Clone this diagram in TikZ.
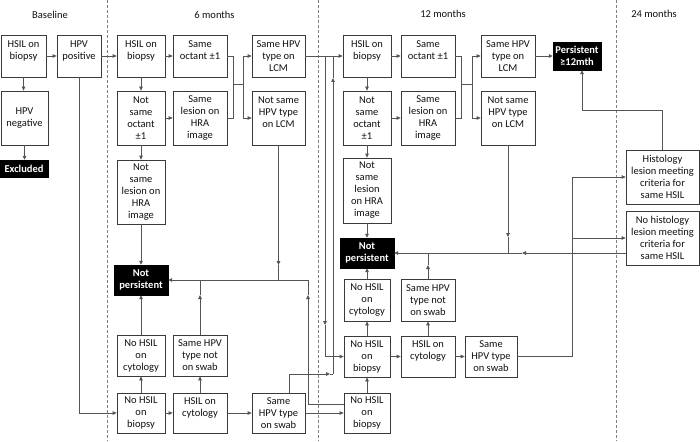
\documentclass[tikz,border=0pt]{standalone}
\usepackage{fontspec}
\setmainfont{Carlito}
\usetikzlibrary{arrows.meta,calc}
\definecolor{boxc}{HTML}{3A3A3A}
\definecolor{linec}{HTML}{555555}
\definecolor{txt}{HTML}{111111}
\newcommand{\mkbox}[7][box]{%
  \pgfmathsetmacro\cx{(#3+#5)/2}\pgfmathsetmacro\cy{(#4+#6)/2}%
  \pgfmathsetmacro\ww{#5-#3}\pgfmathsetmacro\hh{#6-#4}%
  \node[#1, minimum width=\ww pt, minimum height=\hh pt] (#2) at (\cx,\cy) {#7};}
\begin{document}
\begin{tikzpicture}[x=1pt,y=-1pt,
  box/.style={draw=boxc, line width=0.8pt, fill=white, align=center, inner sep=0pt,
    font=\fontsize{10.5}{12}\selectfont, text=txt},
  blk/.style={draw=black, fill=black, align=center, inner sep=0pt,
    font=\bfseries\fontsize{10.5}{12}\selectfont, text=white},
  conn/.style={draw=linec, line width=0.8pt},
  arr/.style={conn, -{Triangle[length=4pt,width=3.6pt]}},
  divider/.style={draw=gray, line width=0.6pt, dash pattern=on 3pt off 2pt},
  hdr/.style={font=\fontsize{10.5}{12}\selectfont, text=txt}]
\useasboundingbox (0,0) rectangle (700,441);
\fill[white] (0,0) rectangle (700,441);
% dividers
\draw[divider] (107,0) -- (107,441);
\draw[divider] (318,0) -- (318,441);
\draw[divider] (616,0) -- (616,441);
% headers
\node[hdr] (hB) at (50,15) {Baseline};
\node[hdr] (h6) at (214.5,15) {6 months};
\node[hdr] (h12) at (443,14) {12 months};
\node[hdr] (h24) at (654,14) {24 months};
% baseline
\mkbox{bHSIL}{1}{35}{46}{77}{HSIL on\\biopsy\\~}
\mkbox{bPos}{57}{35}{101}{77}{HPV\\positive\\~}
\mkbox{bNeg}{1}{91}{48}{145}{HPV\\negative}
\mkbox[blk]{bExcl}{0}{160}{48}{177}{Excluded}
% 6 months
\mkbox{sHSIL}{117}{35}{165}{77}{HSIL on\\biopsy\\~}
\mkbox{sOct}{173}{35}{227}{77}{Same\\octant ±1\\~}
\mkbox{sLCM}{252}{35}{305}{77}{Same HPV\\type on\\LCM}
\mkbox{sNotOct}{117}{91}{165}{145}{Not\\same\\octant\\±1}
\mkbox{sLes}{173}{91}{227}{145}{Same\\lesion on\\HRA\\image}
\mkbox{sNotLCM}{252}{91}{305}{145}{Not same\\HPV type\\on LCM\\~}
\mkbox{sNotLes}{117}{160}{165}{224}{Not\\same\\lesion on\\HRA\\image}
\mkbox[blk]{sNP}{114}{265}{168}{295}{Not\\persistent}
\mkbox{sNoCy}{117}{335}{165}{376}{No HSIL\\on\\cytology}
\mkbox{sNotSwab}{173}{335}{227}{376}{Same HPV\\type not\\on swab}
\mkbox{sNoBx}{117}{393}{165}{433}{No HSIL\\on\\biopsy}
\mkbox{sHCy}{173}{393}{227}{433}{HSIL on\\cytology\\~}
\mkbox{sSwab}{252}{393}{305}{433}{Same\\HPV type\\on swab}
% 12 months
\mkbox{tHSIL}{343}{35}{391}{77}{HSIL on\\biopsy\\~}
\mkbox{tOct}{401}{35}{455}{77}{Same\\octant ±1\\~}
\mkbox{tLCM}{481}{35}{535}{77}{Same HPV\\type on\\LCM}
\mkbox{tNotOct}{343}{91}{391}{145}{Not\\same\\octant\\±1}
\mkbox{tLes}{401}{91}{455}{145}{Same\\lesion on\\HRA\\image}
\mkbox{tNotLCM}{481}{91}{535}{145}{Not same\\HPV type\\on LCM\\~}
\mkbox{tNotLes}{343}{158}{391}{223}{Not\\same\\lesion\\on HRA\\image}
\mkbox[blk]{tNP}{340}{238}{394}{268}{Not\\persistent}
\mkbox{tNoCy}{344}{279}{390}{321}{No HSIL\\on\\cytology}
\mkbox{tNotSwab}{401}{279}{455}{321}{Same HPV\\type not\\on swab}
\mkbox{tNoBxA}{344}{336}{390}{377}{No HSIL\\on\\biopsy}
\mkbox{tHCy}{401}{336}{455}{377}{HSIL on\\cytology\\~}
\mkbox{tSwab}{465}{336}{517}{377}{Same\\HPV type\\on swab}
\mkbox{tNoBxB}{344}{393}{390}{433}{No HSIL\\on\\biopsy}
\mkbox[blk]{pers}{553}{42}{601}{70}{Persistent\\≥12mth}
% 24 months
\mkbox{hist}{626}{150}{699}{204}{Histology\\lesion meeting\\criteria for\\same HSIL}
\mkbox{nohist}{626}{211}{699}{265}{No histology\\lesion meeting\\criteria for\\same HSIL}
% coordinates
\coordinate (j6a) at (233,84);
\coordinate (j6b) at (243,84);
\coordinate (j12a) at (461,84);
\coordinate (j12b) at (472,84);
\coordinate (a6) at (278.5,265);
\coordinate (b6) at (278.5,280);
\coordinate (c6) at (200,295);
\coordinate (d6) at (200,280);
\coordinate (r6) at (308,280);
\coordinate (r6m) at (308,295);
\coordinate (r6b) at (308,404);
\coordinate (e6) at (344,404);
\coordinate (s6t) at (289,393);
\coordinate (k1) at (330,374);
\coordinate (k2) at (333,374);
\coordinate (k3) at (333,78);
\coordinate (k4) at (333,56);
\coordinate (q1) at (325,56);
\coordinate (q2) at (325,325);
\coordinate (a12) at (508,237);
\coordinate (b12) at (508,253);
\coordinate (c12) at (428,265);
\coordinate (d12) at (428,253);
\coordinate (n1) at (626,253);
\coordinate (n2) at (522,253);
\coordinate (v1) at (572,177);
\coordinate (v2) at (572,238);
\coordinate (h1) at (582,110);
% baseline connectors
\draw[arr] (bHSIL) -- (bPos);
\draw[arr] (bHSIL.south) -- (bHSIL.south |- bNeg.north);
\draw[arr] (bNeg.south) -- (bNeg.south |- bExcl.north);
\draw[arr] (bPos) -- (sHSIL);
\draw[arr] (bPos.south) |- (sNoBx);
% 6 months connectors
\draw[arr] (sHSIL) -- (sOct);
\draw[arr] (sHSIL) -- (sNotOct);
\draw[arr] (sNotOct) -- (sLes);
\draw[arr] (sNotOct) -- (sNotLes);
\draw[arr] (sNotLes) -- (sNP);
\draw[conn] (sOct.east) -| (j6a);
\draw[conn] (sLes.east) -| (j6a);
\draw[conn] (j6a) -- (j6b);
\draw[arr] (j6b) |- (sLCM);
\draw[arr] (j6b) |- (sNotLCM);
\draw[arr] (sNotLCM.south) -- (a6);
\draw[conn] (a6) -- (b6);
\draw[arr] (r6) -- (sNP);
\draw[arr] (sNotSwab.north) -- (c6);
\draw[conn] (c6) -- (d6);
\draw[conn] (e6) -- (r6b);
\draw[arr] (r6b) -- (r6m);
\draw[conn] (r6m) -- (r6);
\draw[arr] (sNoBx) -- (sNoCy);
\draw[arr] (sNoCy) -- (sNP);
\draw[arr] (sNoBx) -- (sHCy);
\draw[arr] (sHCy) -- (sNotSwab);
\draw[arr] (sHCy) -- (sSwab);
\draw[arr] (s6t) |- (k1);
\draw[conn] (k1) -- (k2);
\draw[arr] (k2) -- (k3);
\draw[conn] (k3) -- (k4);
\draw[arr] (sLCM) -- (tHSIL);
\draw[arr] (q1) -- (q2);
\draw[arr] (q2) |- (tNoBxA);
\draw[arr] (sSwab) -- (tNoBxB);
% 12 months connectors
\draw[arr] (tHSIL) -- (tOct);
\draw[arr] (tHSIL) -- (tNotOct);
\draw[arr] (tNotOct) -- (tLes);
\draw[arr] (tNotOct) -- (tNotLes);
\draw[arr] (tNotLes) -- (tNP);
\draw[conn] (tOct.east) -| (j12a);
\draw[conn] (tLes.east) -| (j12a);
\draw[conn] (j12a) -- (j12b);
\draw[arr] (j12b) |- (tLCM);
\draw[arr] (j12b) |- (tNotLCM);
\draw[arr] (tLCM) -- (pers);
\draw[arr] (tNotLCM.south) -- (a12);
\draw[conn] (a12) -- (b12);
\draw[arr] (n1) -- (n2);
\draw[arr] (n2) -- (tNP);
\draw[arr] (tNotSwab.north) -- (c12);
\draw[conn] (c12) -- (d12);
\draw[arr] (tNoCy) -- (tNP);
\draw[arr] (tNoBxB) -- (tNoBxA);
\draw[arr] (tNoBxA) -- (tNoCy);
\draw[arr] (tNoBxA) -- (tHCy);
\draw[arr] (tHCy) -- (tNotSwab);
\draw[arr] (tHCy) -- (tSwab);
\draw[conn] (tSwab.east) -| (v1);
\draw[arr] (v1) -- (hist);
\draw[arr] (v2) -- (nohist);
\draw[arr] (hist.north) |- (h1) -- (h1 |- pers.south);
\end{tikzpicture}
\end{document}
